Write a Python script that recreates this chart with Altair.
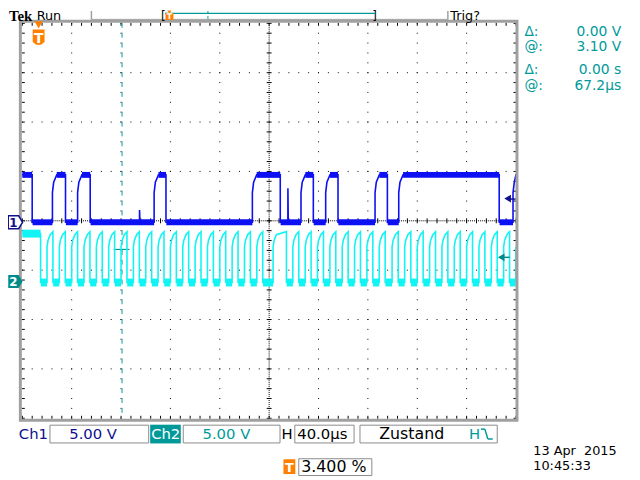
import altair as alt
import pandas as pd
import numpy as np

# ---------------- values ----------------
# horizontal: 40 us/div over 10 div (0..400 us); vertical: 5 V/div over 8 div
US_PER_DIV = 40.0
VOLTS_PER_DIV = 5.0

# Ch1 (blue): edge times in us, trace starts high
CH1_EDGES_US = [8.0, 24.4, 35.0, 44.8, 55.0, 106.8, 116.4, 186.4, 209.0,
                225.8, 235.8, 245.8, 255.8, 285.8, 295.8, 305.0, 386.4, 397.6]
CH1_LOW_V = 0.0
CH1_HIGH_V = 4.8
CH1_KNEE_V = 3.0
CH1_SPIKE_US = [95.0, 215.2]
CH1_SPIKE_V = [1.25, 3.45]
CH1_OFFSET_DIV = -0.03

# Ch2 (cyan): falling / rising edge times in us, trace starts high
CH2_FALL_US = [14.8, 24.8, 34.8, 44.8, 54.8, 64.8, 74.8, 84.8, 94.8, 104.8,
               114.8, 124.8, 134.8, 144.8, 154.8, 164.8, 174.8, 184.8, 194.8,
               214.0, 224.0, 234.0, 244.0, 254.0, 264.0, 274.0, 284.0, 294.0,
               304.6, 314.8, 324.8, 334.8, 344.8, 354.8, 364.8, 374.8, 384.8, 394.8]
CH2_RISE_US = [20.0, 30.0, 40.0, 50.0, 60.0, 70.0, 80.0, 90.0, 100.0, 110.0,
               120.0, 130.0, 140.0, 150.0, 160.0, 170.0, 180.0, 190.0, 203.2,
               219.2, 229.2, 239.2, 249.2, 259.2, 269.2, 279.2, 289.2, 299.6,
               309.8, 320.0, 330.0, 340.0, 350.0, 360.0, 370.0, 380.0, 390.0, 399.8]
CH2_LOW_V = 0.0
CH2_START_V = 4.95
CH2_KNEE_V = 3.6
CH2_PEAK_V = 5.15
CH2_OFFSET_DIV = -1.25

READOUT_KEYS = ["Δ:", "@:", "Δ:", "@:"]
READOUT_VALUES = ["0.00 V", "3.10 V", "0.00 s", "67.2µs"]
CH_SCALES = ["5.00 V", "5.00 V"]
TIMEBASE = "40.0µs"
TRIGGER_MODE = "Zustand"
TRIGGER_POS = "3.400 %"
DATE_TEXT = "13 Apr\u00a0 2015"
TIME_TEXT = "10:45:33"

# ---------------- colours ----------------
BLUE = "#0c10f2"
NAVY = "#10108e"
CYAN = "#12f4f4"
TEAL = "#009a9a"
DTEAL = "#008b8b"
ORANGE = "#ff8000"
FRAME = "#a0a0a0"

# ---------------- layout ----------------
W, H = 500, 400
PX0, PY0 = 22, 20          # screen position of graticule origin (incl. 8px page margin)
XS = alt.Scale(domain=[0, 400], range=[0.5, W + 0.5], nice=False, zero=False)
YS = alt.Scale(domain=[-4, 4], range=[H + 0.5, 0.5], nice=False, zero=False)
ONE = pd.DataFrame({"k": [0]})


def to_div(v, off):
    return off + v / VOLTS_PER_DIV


def build_ch1():
    pts = [(0.0, CH1_HIGH_V)]
    high = True
    bands = []
    last = 0.0
    for e in CH1_EDGES_US:
        if high:
            pts += [(e, CH1_HIGH_V), (e, CH1_LOW_V)]
            bands.append((last, e, CH1_HIGH_V))
            last = e + 0.3
        else:
            pts += [(e, CH1_LOW_V), (e, CH1_KNEE_V), (e + 1.0, 4.05), (e + 3.5, CH1_HIGH_V)]
            bands.append((last, e, CH1_LOW_V))
            last = e + 3.5
        high = not high
    pts.append((400.0, CH1_HIGH_V if high else CH1_LOW_V))
    bands.append((last, 400.0, CH1_HIGH_V if high else CH1_LOW_V))
    for ts, vs in zip(CH1_SPIKE_US, CH1_SPIKE_V):
        pts += [(ts - 0.05, CH1_LOW_V), (ts, vs), (ts + 0.3, CH1_LOW_V)]
    pts = sorted(pts, key=lambda p: p[0])
    df = pd.DataFrame(pts, columns=["t", "v"])
    df["d"] = to_div(df["v"], CH1_OFFSET_DIV)
    df["i"] = np.arange(len(df))
    bd = pd.DataFrame(bands, columns=["t0", "t1", "v"])
    bd["d0"] = to_div(bd["v"] - 0.3, CH1_OFFSET_DIV)
    bd["d1"] = to_div(bd["v"] + 0.3, CH1_OFFSET_DIV)
    return df, bd


def build_ch2():
    ev = sorted([(t, "f") for t in CH2_FALL_US] + [(t, "r") for t in CH2_RISE_US])
    pts = [(0.0, CH2_START_V)]
    bands = []
    prev_fall = None
    first = True
    for t, kind in ev:
        if kind == "f":
            top = CH2_START_V if first else CH2_PEAK_V
            if first:
                bands.append((0.0, t, CH2_START_V))
            first = False
            pts += [(t, top), (t, CH2_LOW_V)]
            prev_fall = t
        else:
            pts += [(t, CH2_LOW_V), (t, CH2_KNEE_V), (t + 0.8, 4.25), (t + 2.6, 4.85)]
            bands.append((prev_fall + 0.2, t, CH2_LOW_V))
    pts = [p for p in pts if p[0] <= 400.0]
    df = pd.DataFrame(pts, columns=["t", "v"])
    df["d"] = to_div(df["v"], CH2_OFFSET_DIV)
    df["i"] = np.arange(len(df))
    bd = pd.DataFrame(bands, columns=["t0", "t1", "v"])
    bd["d0"] = to_div(bd["v"] - 0.4, CH2_OFFSET_DIV)
    bd["d1"] = to_div(bd["v"] + 0.4, CH2_OFFSET_DIV)
    return df, bd


ch1, ch1_bands = build_ch1()
ch2, ch2_bands = build_ch2()


# ---------------- helpers for the scope chrome (screen pixel positions) ----------------
def text(s, x, y, size=15, color="black", align="left", weight="normal",
         font="DejaVu Sans", baseline="alphabetic"):
    return alt.Chart(ONE).mark_text(font=font, fontSize=size, color=color, align=align,
                                    fontWeight=weight, baseline=baseline).encode(
        x=alt.value(x - PX0), y=alt.value(y - PY0), text=alt.value(s))


def box(x0, y0, x1, y1, stroke=None, fill=None, sw=1.0):
    kw = {}
    if fill is not None:
        kw["fill"] = fill
    else:
        kw["fillOpacity"] = 0
    if stroke is not None:
        kw["stroke"] = stroke
        kw["strokeWidth"] = sw
    return alt.Chart(ONE).mark_rect(**kw).encode(
        x=alt.value(x0 - PX0), x2=alt.value(x1 - PX0),
        y=alt.value(y0 - PY0), y2=alt.value(y1 - PY0))


def line(x0, y0, x1, y1, color="black", sw=1.0, dash=None):
    kw = {"color": color, "strokeWidth": sw}
    if dash is not None:
        kw["strokeDash"] = dash
    return alt.Chart(ONE).mark_rule(**kw).encode(
        x=alt.value(x0 - PX0), x2=alt.value(x1 - PX0),
        y=alt.value(y0 - PY0), y2=alt.value(y1 - PY0))


def symbol(shape, x, y, size, fill, stroke=None, sw=1.0):
    kw = {"shape": shape, "filled": True, "fill": fill, "opacity": 1, "fillOpacity": 1}
    if stroke is not None:
        kw["stroke"] = stroke
        kw["strokeWidth"] = sw
    else:
        kw["strokeWidth"] = 0
    return alt.Chart(ONE).mark_point(**kw).encode(
        x=alt.value(x - PX0), y=alt.value(y - PY0), size=alt.value(size))


layers = []

# ---------------- graticule ----------------
major_t = pd.DataFrame({"t": [40, 80, 120, 160, 240, 280, 320, 360]})
major_d = pd.DataFrame({"d": [-3, -2, -1, 1, 2, 3]})
layers.append(alt.Chart(major_t).mark_rule(color="black", strokeWidth=1, strokeDash=[1, 9]).encode(
    x=alt.X("t:Q", scale=XS, axis=None), y=alt.value(0), y2=alt.value(H + 1)))
layers.append(alt.Chart(major_d).mark_rule(color="black", strokeWidth=1, strokeDash=[1, 9]).encode(
    y=alt.Y("d:Q", scale=YS, axis=None), x=alt.value(0), x2=alt.value(W + 1)))
layers.append(alt.Chart(pd.DataFrame({"t": [200]})).mark_rule(color="black", strokeWidth=1, strokeDash=[1, 1]).encode(
    x=alt.X("t:Q", scale=XS, axis=None), y=alt.value(0), y2=alt.value(H)))
layers.append(alt.Chart(pd.DataFrame({"d": [0]})).mark_rule(color="black", strokeWidth=1, strokeDash=[1, 1]).encode(
    y=alt.Y("d:Q", scale=YS, axis=None), x=alt.value(0), x2=alt.value(W)))
# small ticks along the centre lines and the frame (every 1/5 division)
tick_t = pd.DataFrame({"t": np.arange(0, 400.1, US_PER_DIV / 5)})
tick_d = pd.DataFrame({"d": np.arange(-4, 4.01, 0.2)})
layers.append(alt.Chart(tick_t).mark_rule(color="black", strokeWidth=1).encode(
    x=alt.X("t:Q", scale=XS, axis=None), y=alt.value(H / 2 - 2), y2=alt.value(H / 2 + 3)))
layers.append(alt.Chart(tick_d).mark_rule(color="black", strokeWidth=1).encode(
    y=alt.Y("d:Q", scale=YS, axis=None), x=alt.value(W / 2 - 2), x2=alt.value(W / 2 + 3)))
layers.append(alt.Chart(tick_t).mark_rule(color="black", strokeWidth=1).encode(
    x=alt.X("t:Q", scale=XS, axis=None), y=alt.value(0), y2=alt.value(3)))
layers.append(alt.Chart(tick_t).mark_rule(color="black", strokeWidth=1).encode(
    x=alt.X("t:Q", scale=XS, axis=None), y=alt.value(H - 2), y2=alt.value(H + 1)))
layers.append(alt.Chart(tick_d).mark_rule(color="black", strokeWidth=1).encode(
    y=alt.Y("d:Q", scale=YS, axis=None), x=alt.value(0), x2=alt.value(3)))
layers.append(alt.Chart(tick_d).mark_rule(color="black", strokeWidth=1).encode(
    y=alt.Y("d:Q", scale=YS, axis=None), x=alt.value(W - 2), x2=alt.value(W + 1)))

# cursor lines
layers.append(alt.Chart(pd.DataFrame({"t": [80.8]})).mark_rule(color=TEAL, strokeWidth=1, strokeDash=[5, 5]).encode(
    x=alt.X("t:Q", scale=XS, axis=None), y=alt.value(0), y2=alt.value(H)))
layers.append(line(115, 249.5, 131, 249.5, TEAL, 1.2))

# ---------------- traces ----------------
layers.append(alt.Chart(ch2_bands).mark_rect(color=CYAN).encode(
    x=alt.X("t0:Q", scale=XS, axis=None), x2="t1:Q",
    y=alt.Y("d0:Q", scale=YS, axis=None), y2="d1:Q"))
layers.append(alt.Chart(ch2).mark_line(color=CYAN, strokeWidth=1.6, interpolate="linear").encode(
    x=alt.X("t:Q", scale=XS, axis=None), y=alt.Y("d:Q", scale=YS, axis=None), order="i:Q"))
layers.append(alt.Chart(ch1_bands).mark_rect(color=BLUE).encode(
    x=alt.X("t0:Q", scale=XS, axis=None), x2="t1:Q",
    y=alt.Y("d0:Q", scale=YS, axis=None), y2="d1:Q"))
layers.append(alt.Chart(ch1).mark_line(color=BLUE, strokeWidth=1.6, interpolate="linear").encode(
    x=alt.X("t:Q", scale=XS, axis=None), y=alt.Y("d:Q", scale=YS, axis=None), order="i:Q"))

# ---------------- frame ----------------
layers.append(box(20.5, 18.5, 523.5, 422.5, stroke=FRAME, sw=3))

# ---------------- header (the page margin hides the top 8 px, so it sits low) ----------------
layers.append(text("Tek", 9, 18, size=15, weight="bold", font="Liberation Serif"))
layers.append(text("Run", 37, 17.5, size=13))
layers.append(line(92.5, 8, 92.5, 17, FRAME, 1.5))
layers.append(line(453.5, 8, 453.5, 17, FRAME, 1.5))
layers.append(line(92.5, 16.5, 453.5, 16.5, FRAME, 1))
layers.append(text("[", 163, 17, size=12))
layers.append(text("]", 377, 17, size=12))
layers.append(line(167, 10.5, 380, 10.5, TEAL, 1.2))
layers.append(line(210.5, 8, 210.5, 16, TEAL, 1, dash=[3, 2]))
layers.append(symbol("triangle-down", 171.5, 9.2, 16, ORANGE))
layers.append(box(167.5, 10, 175.5, 17, fill=ORANGE))
layers.append(text("T", 171.5, 16.5, size=8, color="white", weight="bold", align="center"))
layers.append(text("Trig?", 456, 17.5, size=13))

# trigger position marker on the graticule
layers.append(symbol("triangle-down", 39, 22, 70, ORANGE))
layers.append(symbol("M -1 -1.3 L 1 -1.3 L 1 0.8 L 0.4 1.3 L -0.4 1.3 L -1 0.8 Z", 39, 34.5, 144, ORANGE))
layers.append(text("T", 39, 40, size=14, color="white", weight="bold", align="center"))

# ---------------- readouts ----------------
for k, (key, val) in enumerate(zip(READOUT_KEYS, READOUT_VALUES)):
    yb = [33, 49, 72, 88][k]
    layers.append(text(key, 531, yb, size=14, color=TEAL))
    layers.append(text(val, 629, yb, size=14, color=TEAL, align="right"))

# ---------------- channel markers ----------------
marker_path = "M -1 -0.9 L 0.45 -0.9 L 1 0 L 0.45 0.9 L -1 0.9 Z"
layers.append(symbol(marker_path, 15.5, 222, 210, "white", stroke=NAVY, sw=1.5))
layers.append(text("1", 13.5, 226.5, size=12, color=NAVY, weight="bold", align="center"))
layers.append(symbol(marker_path, 15.5, 282, 210, DTEAL))
layers.append(text("2", 13.5, 286.5, size=12, color="white", weight="bold", align="center"))
layers.append(symbol("triangle-left", 514, 198, 60, NAVY))
layers.append(line(516, 198.5, 522, 198.5, NAVY, 1.5))
layers.append(symbol("triangle-left", 507.5, 257.5, 60, DTEAL))
layers.append(line(510, 257.5, 516, 257.5, DTEAL, 1.5))

# ---------------- bottom bar ----------------
layers.append(text("Ch1", 19, 442, size=15, color=NAVY))
layers.append(box(50.5, 427.5, 150.5, 445.5, stroke="#8a8a8a"))
layers.append(text(CH_SCALES[0], 70, 442, size=15, color=NAVY))
layers.append(box(152, 427, 183, 446, fill="#00999a"))
layers.append(text("Ch2", 153, 442, size=15, color="white"))
layers.append(box(185.5, 427.5, 283.5, 445.5, stroke="#8a8a8a"))
layers.append(text(CH_SCALES[1], 205, 442, size=15, color=TEAL))
layers.append(text("H", 285, 442, size=15))
layers.append(box(298.5, 427.5, 358.5, 445.5, stroke="#8a8a8a"))
layers.append(text(TIMEBASE, 301, 442, size=15))
layers.append(box(364.5, 427.5, 503.5, 445.5, stroke="#8a8a8a"))
layers.append(text(TRIGGER_MODE, 384, 442, size=16))
layers.append(text("H", 475, 442, size=15, color=TEAL))
layers.append(line(487, 431.5, 491, 431.5, TEAL, 1.5))
layers.append(line(491, 431.5, 494, 441.5, TEAL, 1.5))
layers.append(line(494, 441.5, 499, 441.5, TEAL, 1.5))

layers.append(box(287, 462, 299, 477, fill=ORANGE))
layers.append(text("T", 293, 475, size=13, color="white", weight="bold", align="center"))
layers.append(box(302.5, 461.5, 376.5, 478.5, stroke="#8a8a8a"))
layers.append(text(TRIGGER_POS, 305, 475, size=16))
layers.append(text(DATE_TEXT, 540, 458, size=13))
layers.append(text(TIME_TEXT, 540, 473, size=13))

chart = alt.layer(*layers).properties(
    width=W, height=H,
    padding={"left": PX0 - 8, "top": PY0 - 8, "right": 632 - (PX0 - 8) - W, "bottom": 472 - (PY0 - 8) - H},
    autosize=alt.AutoSizeParams(type="none"),
    background="white",
).configure_view(strokeWidth=0)

chart.save("out.html", embed_options={"renderer": "svg", "actions": False})
